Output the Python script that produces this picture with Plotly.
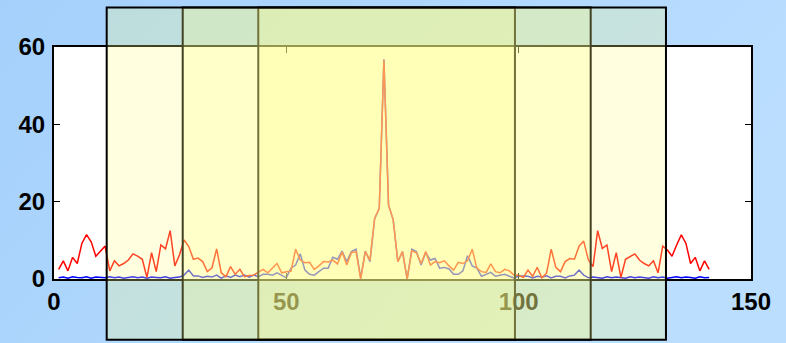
import base64
import plotly.graph_objects as go

# Sample index and the two magnitude series
x = list(range(1, 142))

red = [
    2.5, 4.7, 2.1, 5.6, 4.0, 9.2, 11.5, 9.6, 5.9, 7.2, 8.5,
    2.1, 4.7, 3.4, 4.0, 4.9, 6.5, 5.9, 5.1, 0.4, 6.8, 1.9,
    8.8, 7.8, 12.5, 3.4, 6.2, 10.1, 8.4, 5.1, 5.4, 4.5, 1.9,
    2.9, 7.8, 1.6, 0.6, 3.2, 1.2, 2.5, 0.6, 0.9, 1.0, 1.8,
    2.5, 1.6, 2.8, 4.0, 1.6, 1.9, 2.0, 7.7, 4.9, 4.2, 4.3,
    2.5, 3.4, 4.5, 4.4, 4.9, 3.9, 7.0, 3.6, 6.8, 7.1, 0.0,
    7.1, 4.9, 15.7, 18.3, 56.6,
    19.1, 15.3, 4.5, 7.1, 0.0, 7.3, 6.8, 4.0, 7.1, 3.6, 4.5,
    4.2, 4.7, 3.4, 2.3, 4.3, 4.0, 4.7, 7.7, 2.8, 1.9, 1.7,
    3.9, 1.9, 1.6, 2.5, 2.1, 1.0, 1.0, 0.4, 2.3, 0.7, 3.0,
    0.3, 1.5, 7.7, 3.0, 1.9, 4.5, 5.3, 5.1, 8.5, 9.8, 4.9,
    3.2, 12.5, 7.9, 8.8, 1.9, 6.8, 0.4, 5.1, 5.8, 6.5, 4.9,
    4.0, 3.4, 4.7, 1.6, 8.5, 7.5, 5.9, 8.8, 11.4, 9.2, 4.0,
    5.6, 2.1, 4.7, 2.5,
]

blue = [
    0.3, 0.5, 0.2, 0.6, 0.4, 0.3, 0.6, 0.2, 0.5, 0.4, 0.3, 0.6, 0.3, 0.5,
    0.2, 0.4, 0.6, 0.3, 0.5, 0.2, 0.5, 0.4, 0.3, 0.6, 0.2, 0.4, 0.5, 1.0,
    2.3,
    0.8, 0.8, 0.4, 0.7, 0.5, 1.0, 0.2, 0.8, 0.4, 1.0, 0.6, 1.0, 0.5, 1.0,
    0.6, 1.2, 1.2,
    1.0, 1.6, 1.0, 0.3, 2.8, 3.6, 6.5, 2.3, 1.2, 1.0, 1.9, 2.8, 2.8, 5.6,
    5.1, 7.2, 4.5, 7.1, 7.7, 0.3, 7.2, 4.5, 15.5, 18.3, 56.8,
    19.1, 15.3, 4.5, 7.1, 0.0, 7.7, 7.1, 3.6, 6.8, 4.9, 5.3, 2.8, 3.0,
    2.6, 1.2, 1.2, 2.1, 6.0, 3.4, 2.8, 0.7, 1.2, 1.7,
    0.7, 1.0, 1.2, 0.7, 0.3, 0.7, 0.8, 0.7, 0.3, 0.7, 0.5, 0.8, 0.3, 0.7,
    0.7, 0.3, 0.8, 1.0, 2.3, 1.0, 0.3,
    0.5, 0.4, 0.2, 0.6, 0.3, 0.5, 0.4, 0.2, 0.6, 0.3, 0.5, 0.4, 0.2, 0.6,
    0.3, 0.5, 0.2, 0.4, 0.6, 0.3, 0.5, 0.4, 0.2, 0.6, 0.3, 0.4,
]

x_range = [0, 150]
y_range = [0, 60]
x_ticks = [0, 50, 100, 150]
y_ticks = [0, 20, 40, 60]

# Nested highlight bands (x extents in data units, y extents in data units)
bands_x = [(43.96, 99.2), (27.7, 115.5), (11.34, 131.7)]
band_y = (-15.7, 70.2)

W, H = 786, 343
M = dict(l=54, r=35, t=47, b=64)
plot_w = W - M["l"] - M["r"]
plot_h = H - M["t"] - M["b"]

fig = go.Figure()
fig.add_trace(go.Scatter(x=x, y=blue, mode="lines",
                         line=dict(color="#0000ff", width=1.5), showlegend=False))
fig.add_trace(go.Scatter(x=x, y=red, mode="lines",
                         line=dict(color="#ff0000", width=1.5), showlegend=False))


def to_paper(v, rng):
    return (v - rng[0]) / (rng[1] - rng[0])


# Soft blue gradient behind the whole figure
grad_svg = (
    '<svg xmlns="http://www.w3.org/2000/svg" width="786" height="343">'
    '<defs><linearGradient id="g" x1="0" y1="0" x2="1" y2="0.4">'
    '<stop offset="0" stop-color="#a4d0fb"/><stop offset="1" stop-color="#bbdeff"/>'
    '</linearGradient></defs><rect width="786" height="343" fill="url(#g)"/></svg>'
)
fig.add_layout_image(
    source="data:image/svg+xml;base64," + base64.b64encode(grad_svg.encode()).decode(),
    xref="paper", yref="paper", layer="below", sizing="stretch",
    x=-M["l"] / plot_w, y=1 + M["t"] / plot_h,
    sizex=W / plot_w, sizey=H / plot_h, xanchor="left", yanchor="top",
)
# White plotting area on top of the gradient
fig.add_shape(type="rect", xref="paper", yref="paper", layer="below",
              x0=0, x1=1, y0=0, y1=1, fillcolor="#ffffff", line=dict(width=0))

# Drawn innermost first so the wider bands tint the narrower ones' edges
for x0, x1 in bands_x:
    fig.add_shape(
        type="rect", xref="paper", yref="paper", layer="above",
        x0=to_paper(x0, x_range), x1=to_paper(x1, x_range),
        y0=to_paper(band_y[0], y_range), y1=to_paper(band_y[1], y_range),
        fillcolor="rgba(255,255,136,0.26)",
        line=dict(color="#000000", width=2),
    )

axis_font = dict(family="Liberation Sans, Arial, sans-serif", size=24, color="#000000")
common = dict(showline=True, linecolor="#000000", linewidth=2, mirror="ticks",
              ticks="inside", ticklen=6, tickwidth=1, tickcolor="#000000",
              showgrid=False, zeroline=False, tickfont=axis_font)

fig.update_xaxes(range=x_range, tickvals=x_ticks, **common)
fig.update_yaxes(range=y_range, tickvals=y_ticks, ticklabelstandoff=2, **common)

fig.update_layout(
    width=W, height=H,
    margin=M,
    paper_bgcolor="rgb(172,213,253)",
    plot_bgcolor="rgba(0,0,0,0)",
    font=dict(family="Liberation Sans, Arial, sans-serif", size=24, color="#000000", weight="bold"),
)

fig.write_html("out.html")
